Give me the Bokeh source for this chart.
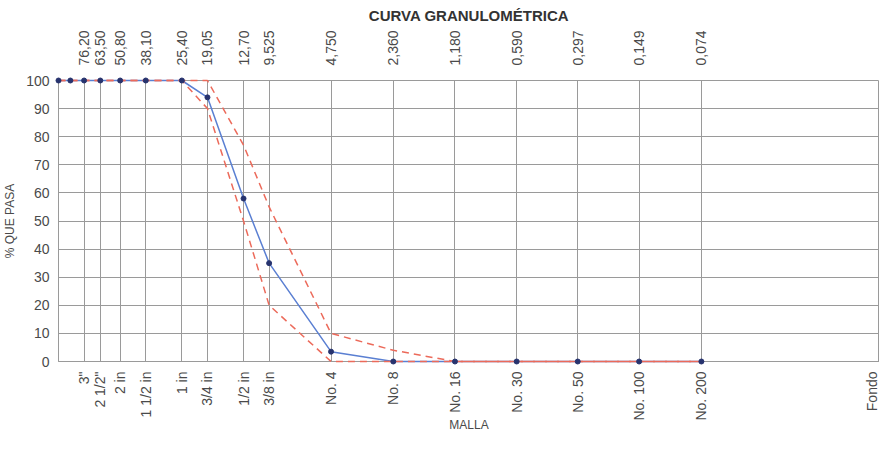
import math
from bokeh.plotting import figure
from bokeh.models import Range1d, FixedTicker, LogAxis, ColumnDataSource
from bokeh.embed import file_html
from bokeh.resources import INLINE

# --- data -------------------------------------------------------------
sizes = [101.6, 88.9, 76.2, 63.5, 50.8, 38.1, 25.4, 19.05, 12.7, 9.525,
         4.75, 2.36, 1.18, 0.59, 0.297, 0.149, 0.074]
passing = [100, 100, 100, 100, 100, 100, 100, 94, 58, 35,
           3.5, 0, 0, 0, 0, 0, 0]
upper_limit = [100, 100, 100, 100, 100, 100, 100, 100, 77, 55,
               10, 4, 0, 0, 0, 0, 0]
lower_limit = [100, 100, 100, 100, 100, 100, 100, 90, 50, 20,
               0, 0, 0, 0, 0, 0, 0]

top_ticks = [76.2, 63.5, 50.8, 38.1, 25.4, 19.05, 12.7, 9.525, 4.75,
             2.36, 1.18, 0.59, 0.297, 0.149, 0.074]
top_labels = ["76,20", "63,50", "50,80", "38,10", "25,40", "19,05", "12,70",
              "9,525", "4,750", "2,360", "1,180", "0,590", "0,297", "0,149",
              "0,074"]
bottom_ticks = [76.2, 63.5, 50.8, 38.1, 25.4, 19.05, 12.7, 9.525, 4.75,
                2.36, 1.18, 0.59, 0.297, 0.149, 0.074, 0.01]
bottom_labels = ['3"', '2 1/2"', '2 in', '1 1/2 in', '1 in', '3/4 in',
                 '1/2 in', '3/8 in', 'No. 4', 'No. 8', 'No. 16', 'No. 30',
                 'No. 50', 'No. 100', 'No. 200', 'Fondo']
y_ticks = [0, 10, 20, 30, 40, 50, 60, 70, 80, 90, 100]

FONT = "Liberation Sans"
GRID = "#9a9a9a"
TXT = "#4a4a4a"

src = ColumnDataSource(dict(size=sizes, passing=passing,
                            upper=upper_limit, lower=lower_limit))

p = figure(width=879, height=434, x_axis_type="log",
           x_range=Range1d(101.6, 0.01), y_range=Range1d(0, 100),
           output_backend="svg", toolbar_location=None,
           title="CURVA GRANULOMÉTRICA",
           min_border_right=0, min_border_top=10, min_border_left=0,
           min_border_bottom=0)

p.title.align = "center"
p.title.text_font = FONT
p.title.text_font_size = "15px"
p.title.text_font_style = "bold"
p.title.text_color = "#333333"
p.title.standoff = 8

p.outline_line_color = GRID
p.background_fill_color = "white"

# grid
p.xgrid.ticker = FixedTicker(ticks=bottom_ticks[:-1])
p.xgrid.grid_line_color = GRID
p.ygrid.ticker = FixedTicker(ticks=y_ticks)
p.ygrid.grid_line_color = GRID

# bottom axis
xa = p.xaxis[0]
xa.ticker = FixedTicker(ticks=bottom_ticks)
xa.major_label_overrides = dict(zip(bottom_ticks, bottom_labels))
xa.major_label_orientation = math.pi / 2
xa.major_tick_out = 0
xa.major_tick_in = 0
xa.minor_tick_out = 0
xa.minor_tick_in = 0
xa.axis_line_color = GRID
xa.major_label_standoff = 10
xa.major_label_text_font = FONT
xa.major_label_text_font_size = "14px"
xa.major_label_text_color = TXT
xa.axis_label = "MALLA"
xa.axis_label_text_font = FONT
xa.axis_label_text_font_size = "12px"
xa.axis_label_text_font_style = "normal"
xa.axis_label_text_color = TXT
xa.axis_label_standoff = -6

# top axis
ta = LogAxis(ticker=FixedTicker(ticks=top_ticks))
ta.major_label_overrides = dict(zip(top_ticks, top_labels))
ta.major_label_orientation = math.pi / 2
ta.major_tick_out = 0
ta.major_tick_in = 0
ta.minor_tick_out = 0
ta.minor_tick_in = 0
ta.axis_line_color = None
ta.major_label_standoff = 15
ta.major_label_text_font = FONT
ta.major_label_text_font_size = "14px"
ta.major_label_text_color = TXT
p.add_layout(ta, "above")

# y axis
ya = p.yaxis[0]
ya.ticker = FixedTicker(ticks=y_ticks)
ya.major_tick_out = 0
ya.major_tick_in = 0
ya.minor_tick_out = 0
ya.minor_tick_in = 0
ya.axis_line_color = GRID
ya.major_label_standoff = 9
ya.major_label_text_font = FONT
ya.major_label_text_font_size = "14px"
ya.major_label_text_color = TXT
ya.axis_label = "% QUE PASA"
ya.axis_label_text_font = FONT
ya.axis_label_text_font_size = "12px"
ya.axis_label_text_font_style = "normal"
ya.axis_label_text_color = TXT
ya.axis_label_standoff = 6

# data
p.line("size", "passing", source=src, line_color="#5a7fd2", line_width=1.5,
       level="overlay")
p.line("size", "upper", source=src, line_color="#ec6a5a", line_width=1.5,
       line_dash="7 5", level="overlay")
p.line("size", "lower", source=src, line_color="#ec6a5a", line_width=1.5,
       line_dash="7 5", level="overlay")
p.scatter("size", "passing", source=src, size=5, fill_color="#27336e",
          line_color="#27336e", level="overlay")

open("out.html", "w").write(file_html(p, INLINE))
